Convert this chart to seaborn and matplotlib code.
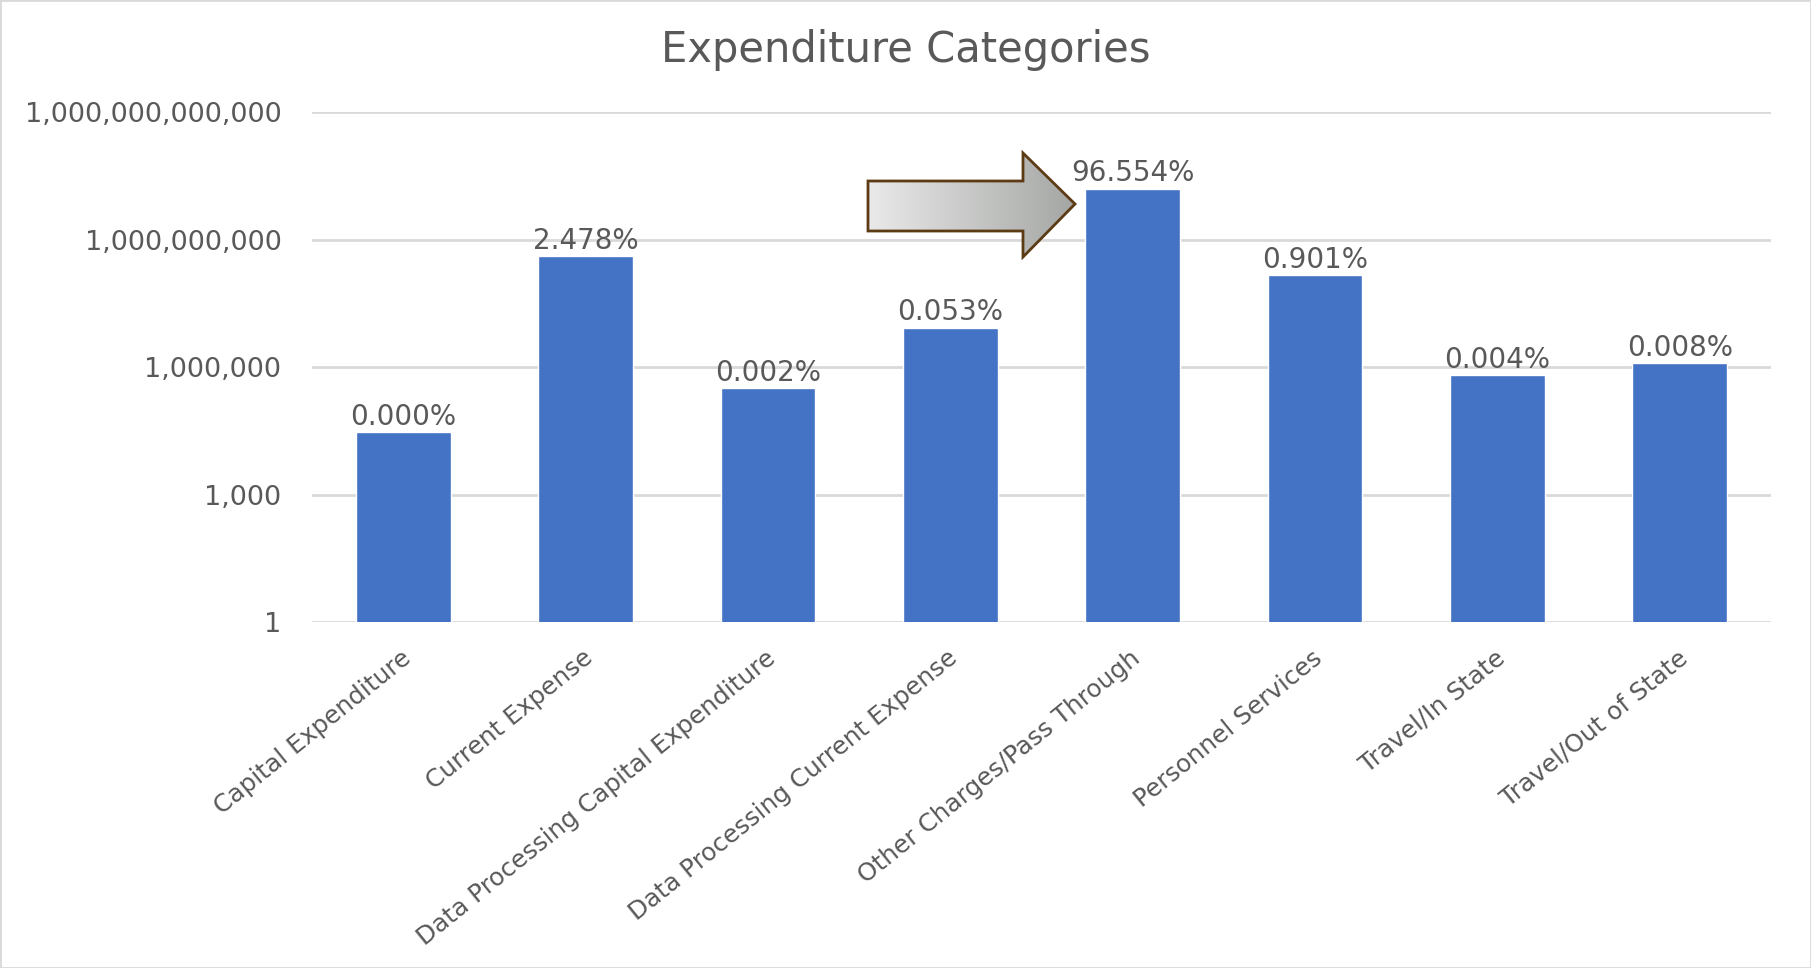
import numpy as np
import pandas as pd
import matplotlib
matplotlib.use('Agg')
import matplotlib.pyplot as plt
import seaborn as sns
from matplotlib.patches import Polygon, Rectangle
from matplotlib.colors import LinearSegmentedColormap
from matplotlib.ticker import FixedLocator, FuncFormatter, NullLocator
from matplotlib.transforms import ScaledTranslation

# --- data ---
categories = ['Capital Expenditure', 'Current Expense', 'Data Processing Capital Expenditure',
              'Data Processing Current Expense', 'Other Charges/Pass Through',
              'Personnel Services', 'Travel/In State', 'Travel/Out of State']
amounts = [29000, 4.0e8, 3.2e5, 8.5e6, 1.58e10, 1.45e8, 6.4e5, 1.25e6]
share_labels = ['0.000%', '2.478%', '0.002%', '0.053%', '96.554%', '0.901%', '0.004%', '0.008%']
y_ticks = [1, 1e3, 1e6, 1e9, 1e12]

df = pd.DataFrame({'category': categories, 'amount': amounts})

# --- style ---
sns.set_theme(style='white')
plt.rcParams['font.family'] = ['DejaVu Sans']
text_grey = '#595959'

fig = plt.figure(figsize=(18.11, 9.68), dpi=100)
ax = fig.add_axes([0.1723, 0.3574, 0.8056, 0.5269])

sns.barplot(data=df, x='category', y='amount', color='#4472C4', width=0.52,
            saturation=1, ax=ax)
ax.set_yscale('log')
ax.set_ylim(1, 1e12)
ax.set_xlim(-0.5, 7.5)

ax.yaxis.set_major_locator(FixedLocator(y_ticks))
ax.yaxis.set_minor_locator(NullLocator())
ax.yaxis.set_major_formatter(FuncFormatter(lambda v, p: f'{int(round(v)):,}'))
ax.yaxis.grid(True, color='#d9d9d9', linewidth=2)
ax.set_axisbelow(True)
sns.despine(ax=ax, left=True, bottom=True)

ax.tick_params(axis='y', length=0, pad=22, labelsize=19.5, labelcolor=text_grey)
ax.tick_params(axis='x', length=0, pad=17, labelsize=17.8, labelcolor=text_grey)
ax.set_xticks(range(len(categories)))
ax.set_xticklabels(categories, rotation=39, ha='right', va='top', rotation_mode='anchor')
shift = ScaledTranslation(-3 / 100, 0, fig.dpi_scale_trans)
for lbl in ax.get_xticklabels():
    lbl.set_transform(lbl.get_transform() + shift)
ax.set_xlabel('')
ax.set_ylabel('')

# percentage labels above bars
ax.bar_label(ax.containers[0], labels=share_labels, padding=1, fontsize=20, color=text_grey)

# title
fig.text(0.5, 1 - 50 / 968, 'Expenditure Categories', ha='center', va='center',
         fontsize=30, color=text_grey)

# --- gradient block arrow pointing at the largest bar (figure pixel coords) ---
ov = fig.add_axes([0, 0, 1, 1], zorder=5)
ov.axis('off')
ov.patch.set_facecolor('none')
pts = [(868, 181), (1023, 181), (1023, 153), (1075, 204), (1023, 257), (1023, 231), (868, 231)]
arrow = Polygon(pts, closed=True, facecolor='none', edgecolor='#5c3a14', linewidth=2, zorder=3)
ov.add_patch(arrow)
grad = np.linspace(0, 1, 256).reshape(1, -1)
cmap = LinearSegmentedColormap.from_list('grey_grad', ['#e9eae9', '#a4a6a4'])
im = ov.imshow(grad, extent=[868, 1075, 257, 153], cmap=cmap, aspect='auto', zorder=2)
im.set_clip_path(arrow)
ov.set_xlim(0, 1811)
ov.set_ylim(968, 0)

# light chart frame
fig.add_artist(Rectangle((0, 0), 1, 1, transform=fig.transFigure, fill=False,
                         edgecolor='#d9d9d9', linewidth=2))

fig.savefig('out.png', dpi=100)
